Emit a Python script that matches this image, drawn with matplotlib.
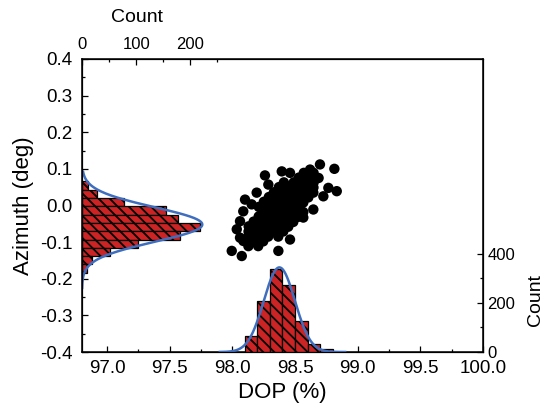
import numpy as np
import matplotlib.pyplot as plt
from matplotlib.ticker import MultipleLocator, FixedLocator

plt.rcParams['font.family'] = ['Liberation Sans', 'DejaVu Sans']
plt.rcParams['hatch.linewidth'] = 1.3
plt.rcParams['hatch.color'] = 'black'

# scatter points (DOP %, azimuth deg)
scatter_dop = [
    98.088, 98.128, 98.168, 98.208, 98.248, 98.288, 98.328, 98.368, 98.408, 98.448, 98.488, 98.528, 98.568, 98.608, 98.648,
    98.128, 98.168, 98.208, 98.248, 98.288, 98.328, 98.368, 98.408, 98.448, 98.488, 98.528, 98.568, 98.608, 98.648, 98.688,
    98.130, 98.170, 98.210, 98.250, 98.290, 98.330, 98.370, 98.410, 98.450, 98.490, 98.530, 98.570,
    98.206, 98.246, 98.286, 98.326, 98.366, 98.406, 98.446, 98.486, 98.526, 98.566, 98.606, 98.646,
    98.211, 98.251, 98.291, 98.331, 98.371, 98.411,
    98.366, 98.406, 98.446, 98.486, 98.526, 98.566,
    98.128, 98.168, 98.208, 98.248, 98.288, 98.328, 98.368, 98.408, 98.448, 98.488, 98.528, 98.568, 98.608, 98.648,
    98.129, 98.169, 98.209, 98.249, 98.289, 98.329, 98.369, 98.409, 98.449, 98.489, 98.529, 98.569,
    98.207, 98.247, 98.287, 98.327, 98.367, 98.407, 98.447, 98.487, 98.527, 98.567, 98.607, 98.647,
    98.699, 98.814, 98.833, 98.394, 98.260, 98.287, 98.460, 98.620, 98.194, 98.101, 98.154, 98.087,
    98.061, 98.035, 98.061, 97.995, 98.075, 98.367, 98.460, 98.566, 98.646, 98.726, 98.766,
]
scatter_az = [
    -0.097, -0.084, -0.071, -0.057, -0.044, -0.031, -0.017, -0.004, 0.009, 0.022, 0.036, 0.049, 0.062, 0.076, 0.089,
    -0.111, -0.098, -0.084, -0.071, -0.058, -0.044, -0.031, -0.018, -0.004, 0.009, 0.022, 0.036, 0.049, 0.062, 0.075,
    -0.057, -0.044, -0.030, -0.017, -0.004, 0.010, 0.023, 0.036, 0.049, 0.063, 0.076, 0.089,
    -0.111, -0.098, -0.085, -0.071, -0.058, -0.045, -0.031, -0.018, -0.005, 0.008, 0.022, 0.035,
    -0.004, 0.010, 0.023, 0.036, 0.050, 0.063,
    -0.085, -0.071, -0.058, -0.045, -0.031, -0.018,
    -0.097, -0.084, -0.071, -0.058, -0.044, -0.031, -0.018, -0.004, 0.009, 0.022, 0.036, 0.049, 0.062, 0.076,
    -0.071, -0.057, -0.044, -0.031, -0.017, -0.004, 0.009, 0.023, 0.036, 0.049, 0.063, 0.076,
    -0.098, -0.084, -0.071, -0.058, -0.045, -0.031, -0.018, -0.005, 0.009, 0.022, 0.035, 0.049,
    0.112, 0.100, 0.039, 0.093, 0.082, 0.057, 0.089, 0.098, 0.035, 0.016, 0.003, -0.016,
    -0.043, -0.065, -0.088, -0.124, -0.138, -0.124, -0.093, -0.033, -0.011, 0.025, 0.048,
]

# DOP histogram (bottom, right Count axis)
dop_edges = [98.1, 98.2, 98.3, 98.4, 98.5, 98.6, 98.7, 98.8]
dop_counts = [64, 209, 339, 275, 128, 33, 12]
dop_fit = dict(mu=98.375, sigma=0.124, amp=345)

# Azimuth histogram (left, top Count axis), edges from top to bottom
az_edges = [0.066, 0.043, 0.021, -0.002, -0.025, -0.048, -0.070, -0.093, -0.116, -0.138, -0.161, -0.184]
az_counts = [12, 27, 77, 155, 178, 218, 181, 104, 52, 18, 9]
az_fit = dict(mu=-0.052, sigma=0.047, amp=222)

x_ticks = [97.0, 97.5, 98.0, 98.5, 99.0, 99.5, 100.0]
x_labels = ['97.0', '97.5', '98.0', '98.5', '99.0', '99.5', '100.0']
y_ticks = [-0.4, -0.3, -0.2, -0.1, 0.0, 0.1, 0.2, 0.3, 0.4]
y_labels = ['-0.4', '-0.3', '-0.2', '-0.1', '0.0', '0.1', '0.2', '0.3', '0.4']

red = '#CC2424'
blue = '#3F6EBF'


def gauss(x, mu, sigma, amp):
    return amp * np.exp(-0.5 * ((x - mu) / sigma) ** 2)


fig = plt.figure(figsize=(5.43, 4.12), dpi=100)
ax = fig.add_axes([0.151, 0.1456, 0.7385, 0.7114])

ax.scatter(scatter_dop, scatter_az, s=56, c='black', edgecolors='none', zorder=3)
ax.set_xlim(96.8, 100.0)
ax.set_ylim(-0.4, 0.4)
ax.set_xticks(x_ticks)
ax.set_xticklabels(x_labels)
ax.set_yticks(y_ticks)
ax.set_yticklabels(y_labels)
ax.xaxis.set_minor_locator(MultipleLocator(0.25))
ax.yaxis.set_minor_locator(MultipleLocator(0.05))
ax.tick_params(which='both', direction='in', top=False, right=False, width=0.9, labelsize=13.5)
ax.tick_params(which='major', length=4.5)
ax.tick_params(which='minor', length=2.5)
ax.tick_params(axis='y', pad=7)
ax.tick_params(axis='x', pad=6)
ax.set_xlabel('DOP (%)', fontsize=16, labelpad=3)
ax.set_ylabel('Azimuth (deg)', fontsize=16, labelpad=4)
for s in ax.spines.values():
    s.set_linewidth(1.1)

# left histogram on a top Count axis
ax_t = ax.twiny()
az_lo = np.array(az_edges[1:])
az_h = np.array(az_edges[:-1]) - az_lo
ax_t.barh(az_lo, az_counts, height=az_h, align='edge', color=red,
          edgecolor='black', linewidth=0.9, hatch='\\\\\\')
yy = np.linspace(-0.225, 0.092, 300)
ax_t.plot(gauss(yy, **az_fit), yy, color=blue, lw=1.8)
ax_t.set_xlim(0, 740)
ax_t.set_ylim(-0.4, 0.4)
ax_t.xaxis.set_major_locator(FixedLocator([0, 100, 200]))
ax_t.xaxis.set_minor_locator(FixedLocator([50, 150, 250]))
ax_t.tick_params(which='both', direction='in', width=0.9, labelsize=12, pad=5)
ax_t.tick_params(which='major', length=4.5)
ax_t.tick_params(which='minor', length=2.5)
ax_t.text(0.137, 1.14, 'Count', transform=ax_t.transAxes, ha='center', va='center', fontsize=14)

# bottom histogram on a right Count axis
ax_r = ax.twinx()
ax_r.bar(dop_edges[:-1], dop_counts, width=np.diff(dop_edges), align='edge', color=red,
         edgecolor='black', linewidth=0.9, hatch='\\\\\\')
xx = np.linspace(97.9, 98.9, 300)
ax_r.plot(xx, gauss(xx, **dop_fit), color=blue, lw=1.8)
ax_r.set_ylim(0, 1195)
ax_r.set_xlim(96.8, 100.0)
ax_r.yaxis.set_major_locator(FixedLocator([0, 200, 400]))
ax_r.yaxis.set_minor_locator(FixedLocator([100, 300]))
ax_r.tick_params(which='both', direction='in', width=0.9, labelsize=12, pad=3)
ax_r.tick_params(which='major', length=4.5)
ax_r.tick_params(which='minor', length=2.5)
ax_r.text(1.13, 0.177, 'Count', transform=ax_r.transAxes, ha='center', va='center',
          rotation=90, fontsize=14)

fig.savefig('out.png', dpi=100)
